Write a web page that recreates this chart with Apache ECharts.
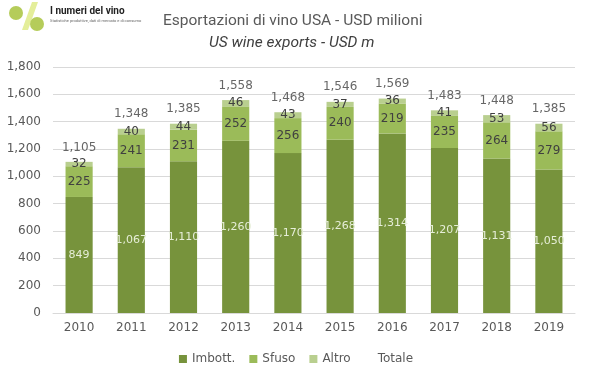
<!DOCTYPE html>
<html><head><meta charset="utf-8">
<script src="https://cdn.jsdelivr.net/npm/echarts@6/dist/echarts.min.js"></script>
<style>html,body{margin:0;padding:0;background:#fff}#c{width:592px;height:378px}</style>
</head><body><div id="c"></div>
<script>
const years = ['2010','2011','2012','2013','2014','2015','2016','2017','2018','2019'];
const imbott = [849,1067,1110,1260,1170,1268,1314,1207,1131,1050];
const sfuso = [225,241,231,252,256,240,219,235,264,279];
const altro = [32,40,44,46,43,37,36,41,53,56];
const totale = [1105,1348,1385,1558,1468,1546,1569,1483,1448,1385];
const yTicks = [0,200,400,600,800,1000,1200,1400,1600,1800];

const chart = echarts.init(document.getElementById('c'));
const fmt = v => v.toLocaleString('en-US');
const F = 'DejaVu Sans';
chart.setOption({
  animation:false,
  title:[
    {text:'Esportazioni di vino USA - USD milioni', left:158, top:8, textStyle:{fontFamily:'Roboto', fontSize:15.5, fontWeight:'normal', color:'#595959'}},
    {text:'US wine exports - USD m', left:204, top:30, textStyle:{fontFamily:'Roboto', fontSize:15.5, fontStyle:'italic', fontWeight:'normal', color:'#404040'}}
  ],
  graphic:[
    {type:'polygon', shape:{points:[[22,30],[28,30],[38,2],[32,2]]}, style:{fill:'#e4ee9a'}},
    {type:'circle', shape:{cx:16,cy:13,r:7}, style:{fill:'#b5cc5a'}},
    {type:'circle', shape:{cx:37,cy:24,r:7}, style:{fill:'#b5cc5a'}},
    {type:'text', left:50, top:6, style:{text:'I numeri del vino', font:'bold 10px Roboto', fill:'#222'}},
    {type:'text', left:50, top:19, style:{text:'Statistiche produttive, dati di mercato e di consumo', font:'4px Roboto', fill:'#666'}}
  ],
  grid:{left:53, right:17, top:67, bottom:65},
  legend:{bottom:8, left:'center', itemWidth:8, itemHeight:8, itemGap:14,
    textStyle:{fontFamily:F, fontSize:12, color:'#595959'},
    data:[{name:'Imbott.',icon:'rect'},{name:'Sfuso',icon:'rect'},{name:'Altro',icon:'rect'},{name:'Totale',icon:'none'}]},
  xAxis:{type:'category', data:years, axisTick:{show:false},
    axisLine:{lineStyle:{color:'#d9d9d9'}},
    axisLabel:{fontFamily:F, fontSize:12, color:'#595959', margin:9}},
  yAxis:{type:'value', min:yTicks[0], max:yTicks[yTicks.length-1], interval:200,
    axisLabel:{fontFamily:F, fontSize:12, color:'#595959', margin:12, formatter:v=>fmt(v)},
    splitLine:{lineStyle:{color:'#d9d9d9'}}},
  series:[
    {name:'Imbott.', type:'bar', stack:'a', data:imbott, barWidth:'52%', itemStyle:{color:'#77933c'},
      label:{show:true, position:'inside', fontFamily:F, fontSize:11, color:'#e6eed8', formatter:p=>fmt(p.value)}},
    {name:'Sfuso', type:'bar', stack:'a', data:sfuso, itemStyle:{color:'#9bbb59'},
      label:{show:true, position:'inside', fontFamily:F, fontSize:12, color:'#404040'}},
    {name:'Altro', type:'bar', stack:'a', data:altro, itemStyle:{color:'#b9cf8f'},
      label:{show:true, position:'inside', fontFamily:F, fontSize:12, color:'#404040'}},
    {name:'Totale', type:'scatter', data:totale, symbolSize:1, itemStyle:{color:'rgba(0,0,0,0)'},
      label:{show:true, position:'top', distance:8, fontFamily:F, fontSize:12, color:'#404040', formatter:p=>fmt(p.value)}}
  ]
});
</script></body></html>
